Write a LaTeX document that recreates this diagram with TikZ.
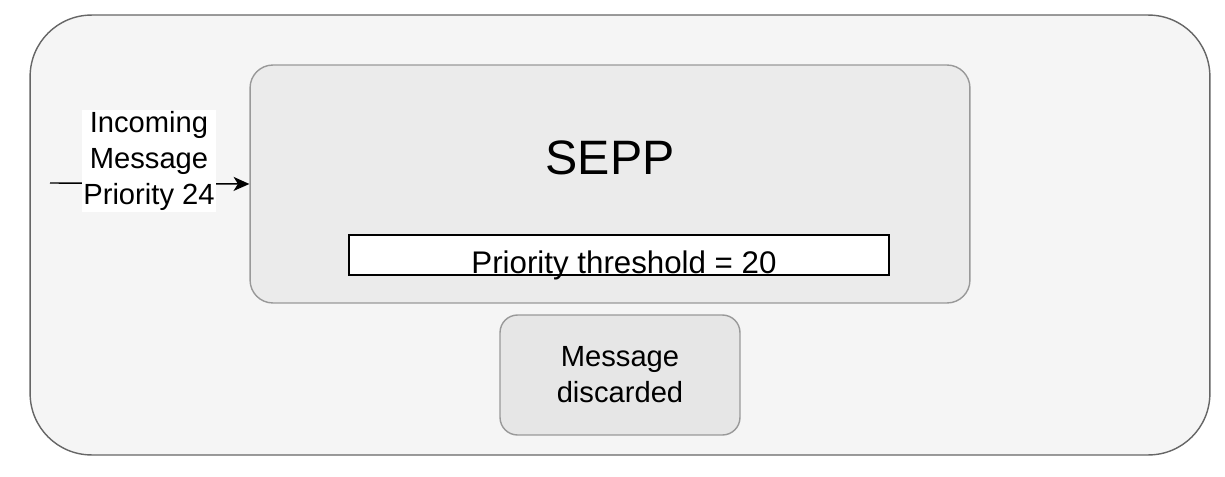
\documentclass[tikz,border=0pt]{standalone}
\usepackage{fontspec}
\setmainfont{Liberation Sans}
\usepackage{tikz}
\usetikzlibrary{arrows.meta}
\definecolor{outerfill}{HTML}{F5F5F5}
\definecolor{outerline}{HTML}{666666}
\definecolor{seppfill}{HTML}{EBEBEB}
\definecolor{seppline}{HTML}{999999}
\definecolor{dropfill}{HTML}{E6E6E6}
\tikzstyle{txt} = [font=\fontsize{16.6}{20.4}\selectfont, align=center, inner sep=2]
\tikzstyle{box} = [draw, line width=0.8pt]

\begin{document}
\begin{tikzpicture}[x=0.02cm,y=-0.02cm,post/.style={-{Stealth[length=9pt,width=8pt,inset=2.5pt]},line width=0.8pt}]
    \useasboundingbox (0,0) rectangle (1225,477);

    \node[box, draw=outerline, fill=outerfill, rounded corners=35pt, minimum width=23.6cm, minimum height=8.8cm] (frame) at (620,235) {};
    \node[box, draw=seppline, fill=seppfill, rounded corners=13pt, minimum width=14.4cm, minimum height=4.76cm] (sepp) at (610,184) {};
    \node[font=\fontsize{27.5}{32}\selectfont, inner sep=2] (title) at (610,158) {SEPP};

    \node[draw=black, line width=0.8pt, fill=white, minimum width=10.8cm, minimum height=0.8cm, inner sep=0] (thresh) at (619,255) {};
    \node[txt, font=\fontsize{17.8}{21}\selectfont] (threshtxt) at (624,265) {Priority threshold = 20};

    \node[box, draw=seppline, fill=dropfill, rounded corners=10pt, minimum width=4.8cm, minimum height=2.4cm, txt] (drop) at (620,375) {Message\\discarded};

    \coordinate (src) at (50,183);
    \draw[post] (src) -- (sepp.west);
    \node[txt, fill=white, inner sep=1] (msg) at (149,161) {Incoming\\Message\\Priority 24};

\end{tikzpicture}
\end{document}
